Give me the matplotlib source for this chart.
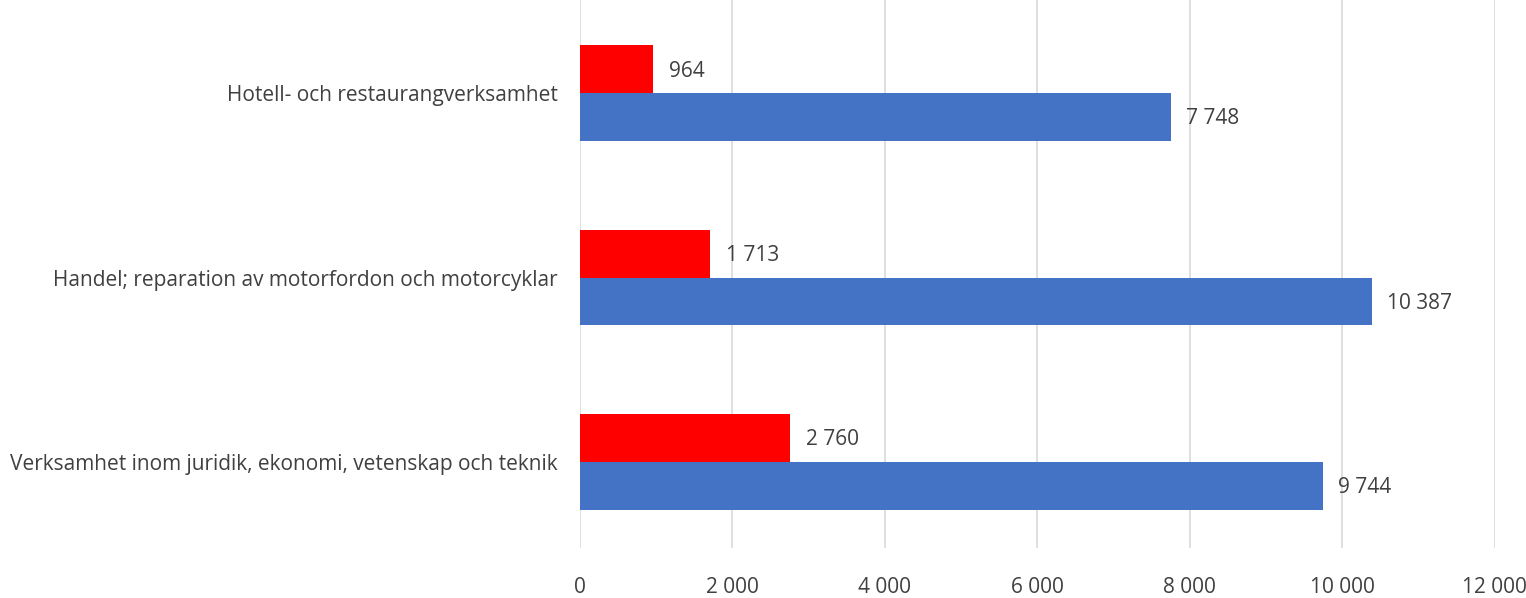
import numpy as np
import matplotlib.pyplot as plt

plt.rcParams['font.family'] = ['Open Sans', 'DejaVu Sans']

categories = ["Verksamhet inom juridik, ekonomi, vetenskap och teknik",
              "Handel; reparation av motorfordon och motorcyklar",
              "Hotell- och restaurangverksamhet"]
red_values = [2760, 1713, 964]
blue_values = [9744, 10387, 7748]
x_ticks = [0, 2000, 4000, 6000, 8000, 10000, 12000]


def fmt(v):
    return f"{v:,}".replace(",", " ")


fig = plt.figure(figsize=(15.26, 5.98), dpi=100)
ax = fig.add_axes([0.380, 0.0836, 0.5995, 0.925])

y = np.arange(len(categories))
h = 0.26
ax.barh(y + h / 2, red_values, height=h, color='#FF0000', zorder=3)
ax.barh(y - h / 2, blue_values, height=h, color='#4472C4', zorder=3)

fs = 15
for yi, v in zip(y, red_values):
    ax.text(v + 200, yi + h / 2 - 0.01, fmt(v), va='center', ha='left', fontsize=fs, color='#404040')
for yi, v in zip(y, blue_values):
    ax.text(v + 200, yi - h / 2 - 0.01, fmt(v), va='center', ha='left', fontsize=fs, color='#404040')

ax.set_xlim(0, 12000)
ax.set_ylim(-0.467, 2.533)
ax.set_xticks(x_ticks)
ax.set_xticklabels([fmt(t) for t in x_ticks], fontsize=fs, color='#404040')
ax.set_yticks(y)
ax.set_yticklabels(categories, fontsize=fs, color='#404040')
ax.tick_params(axis='both', length=0)
ax.tick_params(axis='x', pad=21)
ax.tick_params(axis='y', pad=16)
ax.grid(axis='x', color='#D9D9D9', linewidth=1.2, zorder=0)
for s in ax.spines.values():
    s.set_visible(False)

fig.savefig('out.png', dpi=100)
